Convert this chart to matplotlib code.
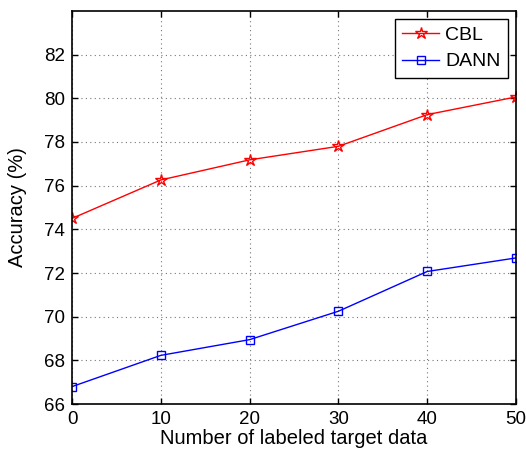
import matplotlib
matplotlib.use("Agg")
import matplotlib.pyplot as plt

x = [0, 10, 20, 30, 40, 50]
cbl = [74.5, 76.26, 77.18, 77.8, 79.25, 80.06]
dann = [66.8, 68.23, 68.95, 70.25, 72.07, 72.69]
xticks = [0, 10, 20, 30, 40, 50]
yticks = [66, 68, 70, 72, 74, 76, 78, 80, 82]

plt.rcParams['font.family'] = ['Liberation Sans', 'DejaVu Sans']
fig = plt.figure(figsize=(5.26, 4.53), dpi=100)
ax = fig.add_axes([0.137, 0.108, 0.844, 0.868])

ax.plot(x, cbl, color='red', lw=1.0, marker='*', ms=9, mfc='none', mec='red', mew=1.0, label='CBL')
ax.plot(x, dann, color='blue', lw=1.0, marker='s', ms=6, mfc='none', mec='blue', mew=1.0, label='DANN')

ax.set_xlim(0, 50)
ax.set_ylim(66, 84)
ax.set_xticks(xticks)
ax.set_yticks(yticks)
ax.tick_params(direction='in', top=True, right=True, labelsize=13.5, length=4, width=1, pad=5)
ax.grid(True, linestyle=(0, (1, 3)), color='#777777', lw=0.8)
for s in ax.spines.values():
    s.set_linewidth(1.2)
ax.set_xlabel('Number of labeled target data', fontsize=14.5, labelpad=1)
ax.set_ylabel('Accuracy (%)', fontsize=14.5, labelpad=12)
leg = ax.legend(loc='upper right', fontsize=14, fancybox=False, edgecolor='black', framealpha=1,
                handlelength=1.9, handletextpad=0.3, labelspacing=0.45, borderaxespad=0.4,
                borderpad=0.4)
leg.get_frame().set_linewidth(1.0)
fig.savefig('out.png', dpi=100)
